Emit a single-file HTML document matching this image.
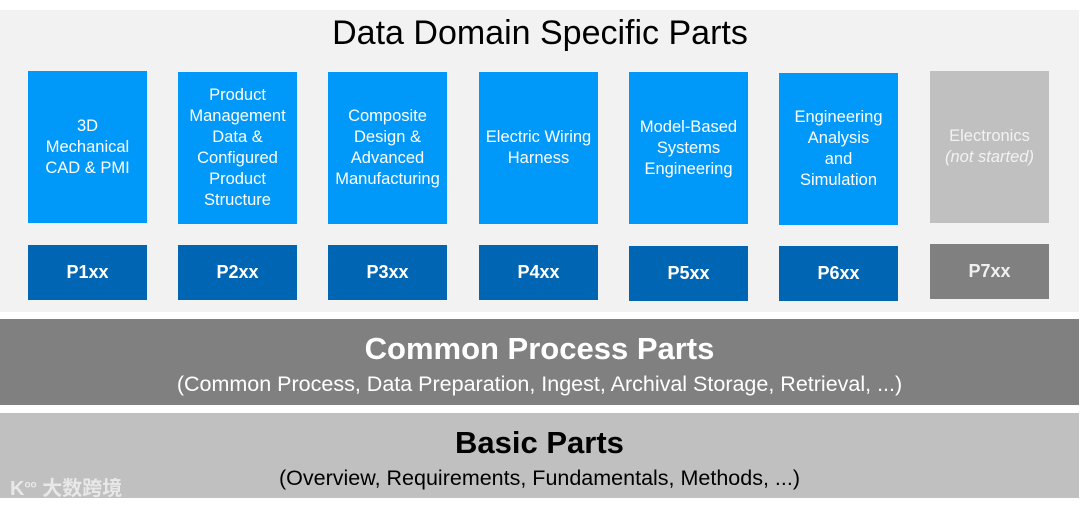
<!DOCTYPE html>
<html><head><meta charset="utf-8"><style>
body{margin:0;width:1080px;height:505px;background:#fff;position:relative;overflow:hidden;font-family:"Liberation Sans","Noto Sans CJK SC",sans-serif}
div{position:absolute;box-sizing:border-box}
.panel{left:0;top:10px;width:1079px;height:302px;background:#f2f2f2}
.title{left:0;top:14px;width:1080px;text-align:center;font-size:34px;color:#000}
.t{width:119px;height:152px;top:71px;background:#0099fa;color:#fff;font-size:16.5px;line-height:21px;display:flex;align-items:center;justify-content:center;text-align:center}
.b{width:119px;height:55px;top:245px;background:#0066b3;color:#fff;font-size:18px;font-weight:bold;display:flex;align-items:center;justify-content:center}
.g1{background:#c0c0c0;color:#f2f2f2}
.g2{background:#808080;color:#f0f0f0}
.h{left:0;top:12px;width:100%;font-size:31px;font-weight:bold}
.s{left:0;top:53px;width:100%;font-size:21.5px}
</style></head><body>
<div class="panel"></div>
<div class="title">Data Domain Specific Parts</div>
<div class="t" style="left:28px"><span>3D<br>Mechanical<br>CAD &amp; PMI</span></div>
<div class="t" style="left:178px;top:72px"><span>Product<br>Management<br>Data &amp;<br>Configured<br>Product<br>Structure</span></div>
<div class="t" style="left:328px;top:72px"><span>Composite<br>Design &amp;<br>Advanced<br>Manufacturing</span></div>
<div class="t" style="left:479px;top:72px"><span>Electric Wiring<br>Harness</span></div>
<div class="t" style="left:629px;top:72px"><span>Model-Based<br>Systems<br>Engineering</span></div>
<div class="t" style="left:779px;top:73px"><span>Engineering<br>Analysis<br>and<br>Simulation</span></div>
<div class="t g1" style="left:930px;top:71px"><span>Electronics<br><i>(not started)</i></span></div>
<div class="b" style="left:28px">P1xx</div>
<div class="b" style="left:178px">P2xx</div>
<div class="b" style="left:328px">P3xx</div>
<div class="b" style="left:479px">P4xx</div>
<div class="b" style="left:629px;top:246px">P5xx</div>
<div class="b" style="left:779px;top:246px">P6xx</div>
<div class="b g2" style="left:930px;top:244px">P7xx</div>
<div style="left:0;top:319px;width:1079px;height:86px;background:#808080;color:#fff;text-align:center">
<div class="h">Common Process Parts</div>
<div class="s">(Common Process, Data Preparation, Ingest, Archival Storage, Retrieval, ...)</div>
</div>
<div style="left:0;top:413px;width:1079px;height:85px;background:#c0c0c0;color:#000;text-align:center">
<div class="h">Basic Parts</div>
<div class="s">(Overview, Requirements, Fundamentals, Methods, ...)</div>
</div>
<div style="left:10px;top:472px;font-size:20px;color:#e8e8e8;font-weight:bold">K<sup style="font-size:10px">oo</sup> 大数跨境</div>
</body></html>
